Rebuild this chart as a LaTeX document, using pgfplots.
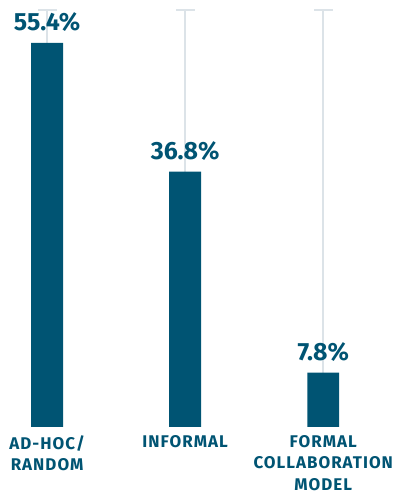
\documentclass[border=0pt]{standalone}
\usepackage{pgfplots}
\pgfplotsset{compat=1.18}
\usepackage{fontspec}
\setmainfont{Fira Sans}
\definecolor{barblue}{RGB}{0,84,115}
\definecolor{linegray}{RGB}{220,227,232}
\begin{document}
\begin{tikzpicture}
\begin{axis}[
  scale only axis,
  width=399bp, height=428.5bp,
  xmin=-0.341, xmax=2.537,
  ymin=0, ymax=61.57,
  axis line style={draw=none},
  major tick length=0pt,
  ytick=\empty,
  xtick={0,1,2},
  xticklabels={{AD-HOC/\\RANDOM},{INFORMAL},{FORMAL\\COLLABORATION\\MODEL}},
  xticklabel style={align=center, font=\addfontfeatures{LetterSpace=6}\bfseries\fontsize{17bp}{21.5bp}\selectfont, text=barblue, anchor=north, inner sep=0pt, yshift=-8.5bp},
  clip=false,
  /pgf/number format/assume math mode=true,
]
\addplot[ycomb, draw=linegray, line width=1.8bp, mark=-, mark size=9.5bp, mark options={draw=linegray, line width=1.8bp}] coordinates {(0,60.18) (1,60.18) (2,60.18)};
\addplot[ybar, bar width=32bp, fill=barblue, draw=none,
  nodes near coords={\pgfmathprintnumber[fixed,precision=1,fixed zerofill,assume math mode=true]{\pgfplotspointmeta}\%},
  nodes near coords style={font=\bfseries\fontsize{25bp}{28bp}\selectfont, text=barblue, anchor=south, inner sep=0pt, yshift=11bp},
] coordinates {(0,55.4) (1,36.8) (2,7.8)};
\end{axis}
\pgfresetboundingbox
\path[use as bounding box] (0,-69.5bp) rectangle (399bp,428.5bp);
\end{tikzpicture}
\end{document}
